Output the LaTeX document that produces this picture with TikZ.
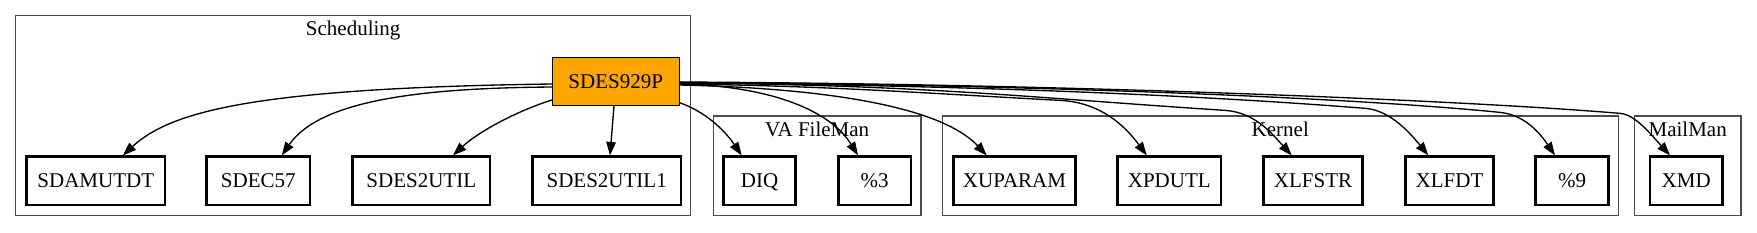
\documentclass[tikz,border=0pt]{standalone}
\usepackage{fontspec}
\setmainfont{Liberation Serif}
\usetikzlibrary{arrows.meta,calc}
\definecolor{orangefill}{HTML}{FFA500}
\begin{document}
\begin{tikzpicture}[x=0.5pt,y=-0.5pt,
  every node/.style={font=\fontsize{10.5}{12}\selectfont},
  mod/.style={draw=black, line width=1.33pt, minimum height=24.15pt, inner sep=0pt, text depth=0pt},
  mainmod/.style={draw=black, line width=0.5pt, fill=orangefill, minimum height=24pt, minimum width=63.35pt, inner sep=0pt},
  cluster/.style={draw=black!70, line width=0.6pt, inner sep=0pt},
  clabel/.style={anchor=base, inner sep=0pt},
  edge/.style={draw=black, line width=0.67pt, -{Triangle[length=6.7pt,width=4.8pt]}}
]
\useasboundingbox (0,0) rectangle (1757,232);
% clusters
\node[cluster, minimum width=337.5pt, minimum height=100pt] (sched) at (353.2,115.7) {};
\node[cluster, minimum width=103.85pt, minimum height=49.85pt] (fileman) at (817.2,165.85) {};
\node[cluster, minimum width=338pt, minimum height=49.85pt] (kernel) at (1280.3,165.85) {};
\node[cluster, minimum width=53.35pt, minimum height=49.85pt] (mailman) at (1687.7,165.85) {};
\node[clabel] (schedlbl) at ($(sched.north)+(0,20.3)$) {Scheduling};
\node[clabel] (filemanlbl) at ($(fileman.north)+(0,20.7)$) {VA FileMan};
\node[clabel] (kernellbl) at ($(kernel.north)+(0,20.7)$) {Kernel};
\node[clabel] (mailmanlbl) at ($(mailman.north)+(0,20.7)$) {MailMan};
% nodes
\node[mainmod] (p) at (615.7,81.3) {SDES929P};
\node[mod, minimum width=69.15pt] (sdamutdt) at (95.8,180.85) {SDAMUTDT};
\node[mod, minimum width=51.65pt] (sdec57) at (258.3,180.85) {SDEC57};
\node[mod, minimum width=68.65pt] (sdes2util) at (421.3,180.85) {SDES2UTIL};
\node[mod, minimum width=74.35pt] (sdes2utilone) at (606.7,180.85) {SDES2UTIL1};
\node[mod, minimum width=36.2pt] (diq) at (759.5,180.85) {DIQ};
\node[mod, minimum width=36.35pt] (pctthree) at (874.7,180.85) {\%3};
\node[mod, minimum width=61.2pt] (xuparam) at (1014.5,180.85) {XUPARAM};
\node[mod, minimum width=51.65pt] (xpdutl) at (1169.3,180.85) {XPDUTL};
\node[mod, minimum width=49.7pt] (xlfstr) at (1313,180.85) {XLFSTR};
\node[mod, minimum width=43.8pt] (xlfdt) at (1449.5,180.85) {XLFDT};
\node[mod, minimum width=36.3pt] (pctnine) at (1572,180.85) {\%9};
\node[mod, minimum width=36.15pt] (xmd) at (1686.2,180.85) {XMD};
% edges
\draw[edge] ($(p.west)+(0,2.7)$) .. controls +(-302,4) and +(47,-43) .. ($(sdamutdt.north)+(27,0)$);
\draw[edge] ($(p.west)+(0,5.7)$) .. controls +(-132,1) and +(38,-55) .. ($(sdec57.north)+(23.5,0)$);
\draw[edge] ($(p.west)+(0,18.7)$) .. controls +(-32,10) and +(27,-25) .. ($(sdes2util.north)+(31.7,0)$);
\draw[edge] ($(p.south)+(-1.7,0)$) -- ($(sdes2utilone.north)+(3.3,0)$);
\draw[edge] ($(p.east)+(0,21.4)$) .. controls +(26,9) and +(-17,-25) .. ($(diq.north)+(-17.8,0)$);
\draw[edge] ($(p.east)+(0,2.7)$) .. controls +(91,2) and +(-28,-45) .. ($(pctthree.north)+(-16.7,0)$);
\draw[edge] ($(p.east)+(0,3.7)$) .. controls +(141,3) and +(-47,-50) .. ($(xuparam.north)+(-27.8,0)$);
\draw[edge] ($(p.east)+(0,2.7)$) .. controls +(150,2) and +(-150,-8) .. ($(xpdutl.north)+(-109,-55)$)
   .. controls +(40,2.1) and +(-22,-30) .. ($(xpdutl.north)+(-22.6,0)$);
\draw[edge] ($(p.east)+(0,1.7)$) .. controls +(250,2) and +(-200,-13) .. ($(xlfstr.north)+(-88,-45)$)
   .. controls +(30,2) and +(-20,-22) .. ($(xlfstr.north)+(-21.3,0)$);
\draw[edge] ($(p.east)+(0,1.7)$) .. controls +(300,2) and +(-150,-12) .. ($(xlfdt.north)+(-84,-47)$)
   .. controls +(25,2) and +(-18,-22) .. ($(xlfdt.north)+(-21.2,0)$);
\draw[edge] ($(p.east)+(0,1.2)$) .. controls +(350,2) and +(-150,-15) .. ($(pctnine.north)+(-72,-43)$)
   .. controls +(25,2.5) and +(-15,-22) .. ($(pctnine.north)+(-17,0)$);
\draw[edge] ($(p.east)+(0,0.7)$) .. controls +(400,2) and +(-150,-12.6) .. ($(xmd.north)+(-66,-42)$)
   .. controls +(15,1.3) and +(-20,-22) .. ($(xmd.north)+(-16.2,0)$);
\end{tikzpicture}
\end{document}
